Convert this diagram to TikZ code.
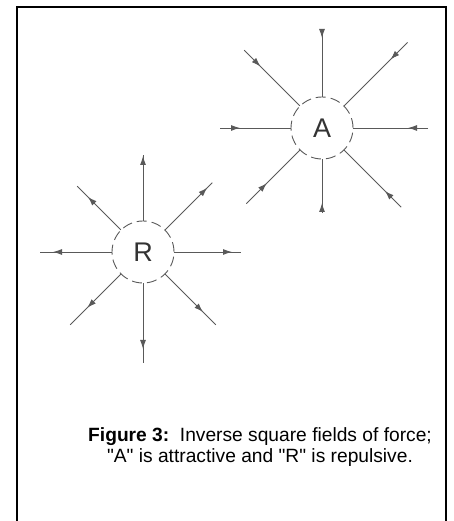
\documentclass[tikz,border=0pt]{standalone}
\usepackage{fontspec}
\setmainfont{Liberation Sans}
\usetikzlibrary{arrows.meta,calc,decorations.markings}

\tikzset{
  ray/.style={draw=black!65,line width=0.9pt},
  pole/.style={circle,draw=black!65,line width=0.9pt,dash pattern=on 10pt off 5pt,
    minimum size=62pt,inner sep=0pt,font=\fontsize{27}{30}\selectfont,text=black!80},
  attract/.style={ray,decoration={markings,mark=at position #1 with {\arrow{Latex[length=9pt,width=6pt]}}},postaction={decorate}},
  repel/.style={ray,decoration={markings,mark=at position #1 with {\arrow{Latex[length=9pt,width=6pt]}}},postaction={decorate}}
}

\begin{document}
\begin{tikzpicture}[x=1pt,y=1pt]
\useasboundingbox (0,0) rectangle (453,521);
% frame, open at the bottom
\draw[line width=1.2pt] (17,0)--(17,514)--(446,514)--(446,0);
% attractive pole
\node[pole] (A) at (322,393) {A};
\foreach \ang/\len/\pos in {90/95/5,45/121/24,0/106/20,-45/112/23,-90/85/10,-135/107/29,180/102/20,135/110/23}{
  \coordinate (a\ang) at ($(A.center)+(\ang:\len)$);
  \draw[attract=\pos pt] (a\ang) -- (A.\ang);
}
% repulsive pole
\node[pole] (R) at (143,269) {R};
\foreach \ang/\len/\pos in {90/97/-1,45/98/-7,0/98/-9,-45/103/-18,-90/111/-14,-135/103/-24,180/103/-13,135/93/-15}{
  \coordinate (r\ang) at ($(R.center)+(\ang:\len)$);
  \draw[repel=\pos pt] (R.\ang) -- (r\ang);
}
% caption
\node[align=center,font=\fontsize{19.2}{20.5}\selectfont] (cap) at (260,74)
  {\textbf{Figure 3:}\ \ Inverse square fields of force;\\\textquotedbl A\textquotedbl{} is attractive and \textquotedbl R\textquotedbl{} is repulsive.};
\end{tikzpicture}
\end{document}
